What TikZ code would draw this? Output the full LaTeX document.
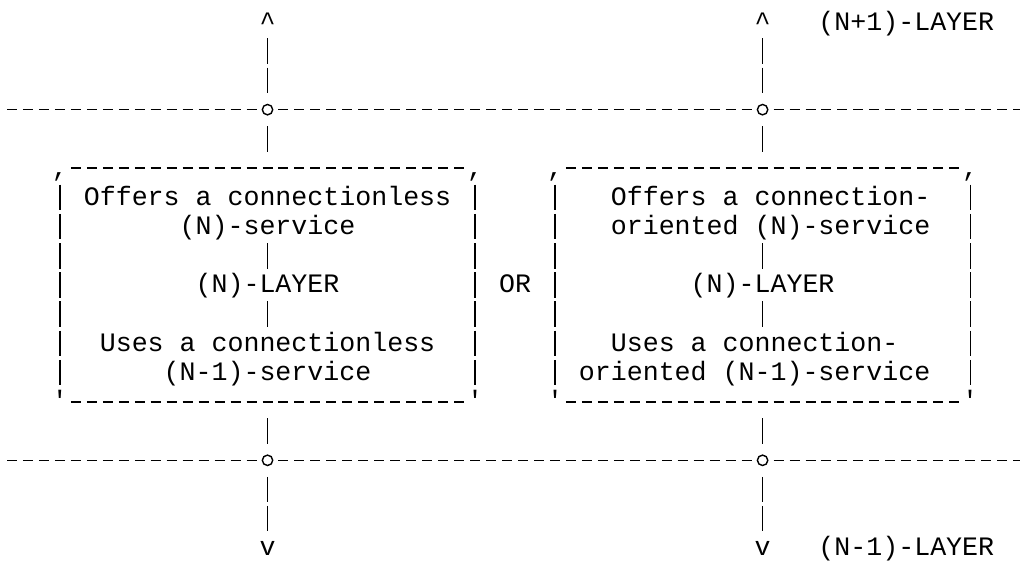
\documentclass[tikz,border=0pt]{standalone}
\usepackage{fontspec}
\newfontfamily\asciifont{Liberation Mono}
\usetikzlibrary{calc}
\begin{document}
\begin{tikzpicture}[x=1pt,y=-1pt,
  txt/.style={inner sep=0pt,outer sep=0pt,anchor=base west,
    font=\asciifont\fontsize{26.617pt}{29.22pt}\selectfont},
  glyph/.style={inner sep=0pt,outer sep=0pt,anchor=base,
    font=\asciifont\fontsize{26.617pt}{29.22pt}\selectfont},
  junction/.style={circle,draw,line width=1.4pt,minimum size=10.4pt,inner sep=0pt,outer sep=0pt},
  hdash/.style={line width=1.4pt,dash pattern=on 10pt off 5.97pt},
  vbar/.style={line width=1.4pt,dash pattern=on 25.5pt off 3.72pt},
  frame/.style={draw=none,inner sep=0pt,outer sep=0pt,minimum width=415.22pt,minimum height=233.76pt}]
\fill[white] (0,0) rectangle (1020,563);
\useasboundingbox (0,0) rectangle (1020,563);

% arrow heads and layer labels
\node[glyph] (upL) at (267.52,30) {\textasciicircum};
\node[glyph] (upR) at (762.59,30) {\textasciicircum};
\node[glyph] (dnL) at (267.52,555.96) {v};
\node[glyph] (dnR) at (762.59,555.96) {v};
\node[txt] (topLayer) at (818.47,30) {(N+1)-LAYER};
\node[txt] (botLayer) at (818.47,555.96) {(N-1)-LAYER};

% junctions on the layer boundaries
\node[junction] (jTL) at (267.52,109.66) {};
\node[junction] (jTR) at (762.59,109.66) {};
\node[junction] (jBL) at (267.52,460.3) {};
\node[junction] (jBR) at (762.59,460.3) {};
\coordinate (lTop) at (7,109.66);
\coordinate (rTop) at (1020,109.66);
\coordinate (lBot) at (7,460.3);
\coordinate (rBot) at (1020,460.3);

% boxes
\node[frame] (boxL) at (267.52,284.98) {};
\node[frame] (boxR) at (762.59,284.98) {};

% left box text
\node[txt] (offL1) at (83.85,205.32) {Offers a connectionless};
\node[txt] (offL2) at (179.67,234.54) {(N)-service};
\node[txt] (layL) at (195.64,292.98) {(N)-LAYER};
\node[txt] (usesL1) at (99.82,351.42) {Uses a connectionless};
\node[txt] (usesL2) at (163.7,380.64) {(N-1)-service};

% right box text
\node[txt] (offR1) at (610.86,205.32) {Offers a connection-};
\node[txt] (offR2) at (610.86,234.54) {oriented (N)-service};
\node[txt] (layR) at (690.71,292.98) {(N)-LAYER};
\node[txt] (usesR1) at (610.86,351.42) {Uses a connection-};
\node[txt] (usesR2) at (578.92,380.64) {oriented (N-1)-service};

\node[txt] (orLabel) at (499.07,292.98) {OR};

% layer boundary lines
\draw[hdash,shorten >=10.97pt] (lTop) -- (jTL.center);
\draw[hdash,shorten <=10.97pt,shorten >=10.97pt] (jTL.center) -- (jTR.center);
\draw[hdash,shorten <=10.97pt] (jTR.center) -- (rTop);
\draw[hdash,shorten >=10.97pt] (lBot) -- (jBL.center);
\draw[hdash,shorten <=10.97pt,shorten >=10.97pt] (jBL.center) -- (jBR.center);
\draw[hdash,shorten <=10.97pt] (jBR.center) -- (rBot);

% box frames
\foreach \b in {boxL,boxR}{
  \draw[hdash,shorten <=10.97pt,shorten >=10.97pt] (\b.north west) -- (\b.north east);
  \draw[hdash,shorten <=10.97pt,shorten >=10.97pt] (\b.south west) -- (\b.south east);
  \draw[vbar,shorten <=16.47pt,shorten >=16.47pt] (\b.north west) -- (\b.south west);
  \draw[vbar,shorten <=16.47pt,shorten >=16.47pt] (\b.north east) -- (\b.south east);
  \node[glyph] (\b nw) at ($(\b.north west)+(0,8)$) {,};
  \node[glyph] (\b ne) at ($(\b.north east)+(0,8)$) {,};
  \node[glyph] (\b sw) at ($(\b.south west)+(0,8)$) {'};
  \node[glyph] (\b se) at ($(\b.south east)+(0,8)$) {'};
}

% vertical service paths
\foreach \s/\j/\bx/\d/\o/\l/\u in {L/jTL/boxL/jBL/offL2/layL/usesL1, R/jTR/boxR/jBR/offR2/layR/usesR1}{
  \draw[vbar,shorten <=8.47pt,shorten >=16.47pt] (up\s.base) -- (\j.center);
  \draw[vbar,shorten <=16.47pt,shorten >=16.47pt] (\j.center) -- (\bx.north);
  \draw[vbar,shorten <=16.47pt,shorten >=16.47pt] (\bx.south) -- (\d.center);
  \draw[vbar,shorten <=16.47pt,shorten >=24.47pt] (\d.center) -- (dn\s.base);
  \draw[vbar,shorten <=8.47pt,shorten >=24.47pt] (\o.base -| \j.center) -- (\l.base -| \j.center);
  \draw[vbar,shorten <=8.47pt,shorten >=24.47pt] (\l.base -| \j.center) -- (\u.base -| \j.center);
}
\end{tikzpicture}
\end{document}
